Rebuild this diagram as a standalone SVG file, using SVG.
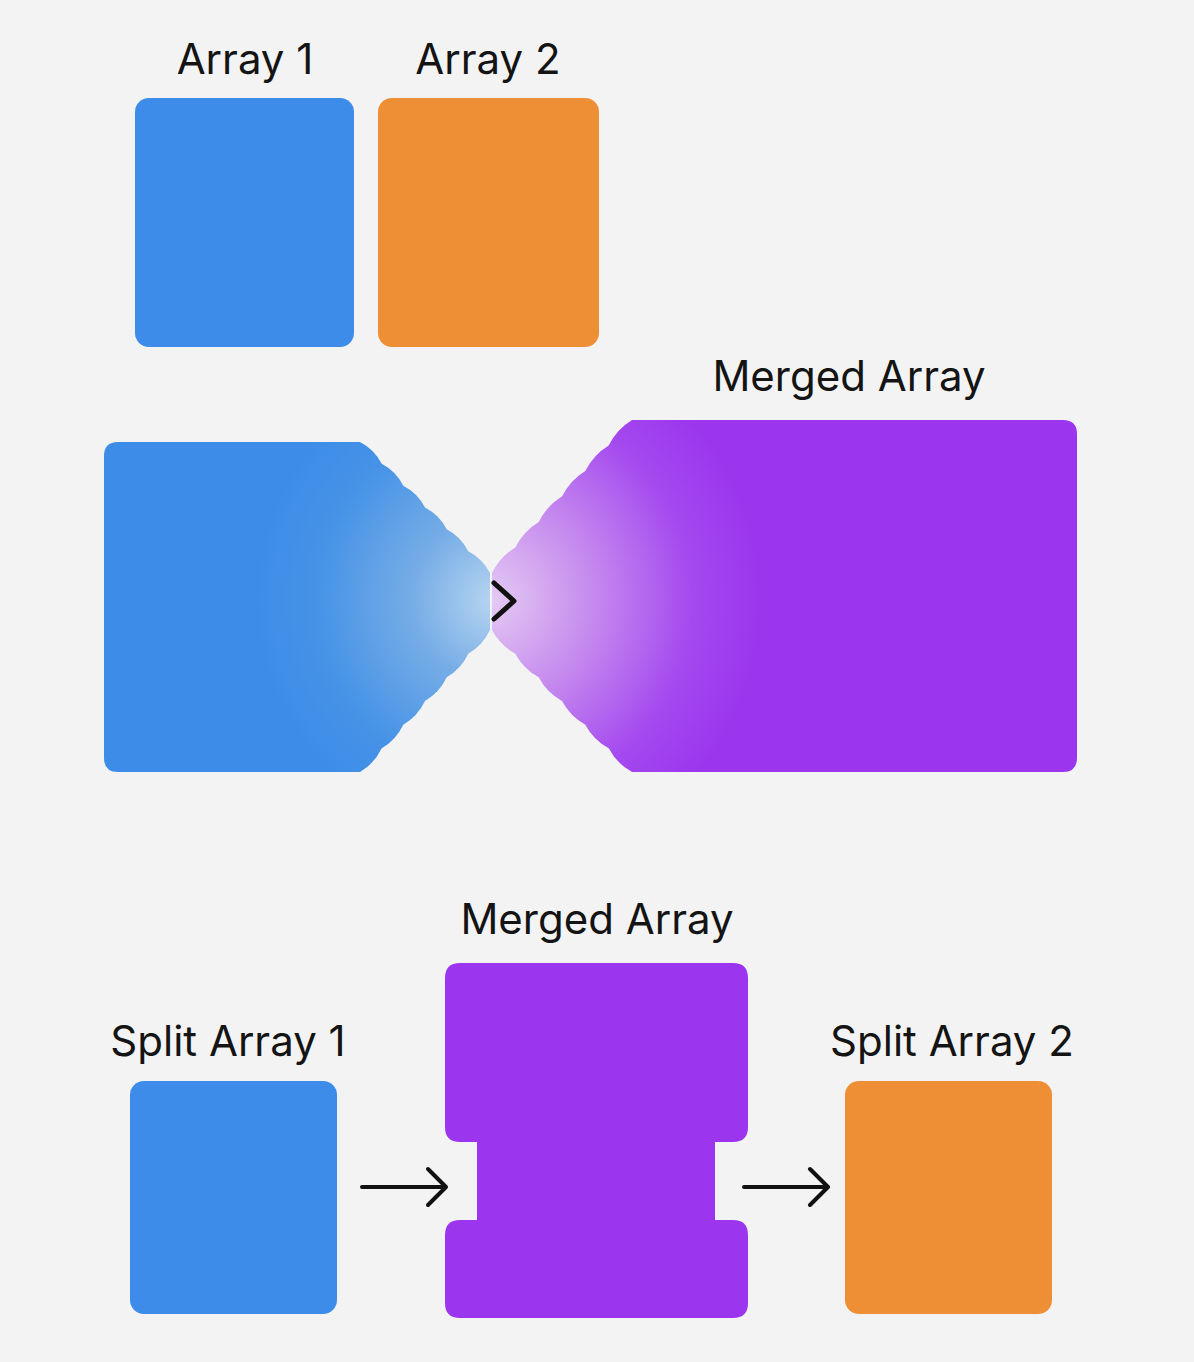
<svg xmlns="http://www.w3.org/2000/svg" width="1194" height="1362" viewBox="0 0 1194 1362">
<defs>
<style>
.lbl{font-family:Inter,"Liberation Sans",sans-serif;font-size:42px;fill:#141414;text-anchor:middle}
.blue{fill:#3d8ce9}
.orange{fill:#ee8e35}
.purple{fill:#9b35ee}
.arrow{fill:none;stroke:#111;stroke-width:4;stroke-linecap:round;stroke-linejoin:round}
</style>
<radialGradient id="gBlue" gradientUnits="userSpaceOnUse" cx="495" cy="600" r="240">
<stop offset="0" stop-color="#b8d5f0"/>
<stop offset="0.35" stop-color="#75ace6"/>
<stop offset="0.75" stop-color="#4592e7"/>
<stop offset="1" stop-color="#3d8de8"/>
</radialGradient>
<radialGradient id="gPurple" gradientUnits="userSpaceOnUse" cx="490" cy="600" r="270">
<stop offset="0" stop-color="#e4cbf3"/>
<stop offset="0.35" stop-color="#c88fee"/>
<stop offset="0.75" stop-color="#a449ef"/>
<stop offset="1" stop-color="#9b36ee"/>
</radialGradient>
</defs>
<rect width="1194" height="1362" fill="#f3f3f3"/>

<g id="array1">
<rect class="blue" x="135" y="98" width="219" height="249" rx="14"/>
<text class="lbl" x="245" y="74">Array 1</text>
</g>
<g id="array2">
<rect class="orange" x="378" y="98" width="221" height="249" rx="14"/>
<text class="lbl" x="488" y="74">Array 2</text>
</g>

<g id="merge-left">
<path fill="url(#gBlue)" d="M118,442 H360 Q374.4,449.4 381.7,463.8 Q396,471.3 403.3,485.7 Q417.7,493.1 425,507.5 Q439.4,514.9 446.7,529.3 Q461,536.8 468.3,551.2 Q482.7,558.6 490,573 L490,630 Q482.7,645.3 468.3,653.7 Q461,669 446.7,677.3 Q439.4,692.7 425,701 Q417.7,716.3 403.3,724.7 Q396,740 381.7,748.3 Q374.4,763.7 360,772 H118 Q104,772 104,758 V456 Q104,442 118,442 Z"/>
</g>
<g id="merged-array">
<path fill="url(#gPurple)" d="M632,420 H1063 Q1077,420 1077,434 V758 Q1077,772 1063,772 H632 Q616.8,763.7 608.7,748.3 Q593.5,740 585.3,724.7 Q570.2,716.3 562,701 Q546.8,692.7 538.7,677.3 Q523.5,669 515.3,653.7 Q500.2,645.3 492,630 L492,573 Q500.2,556.7 515.3,547.5 Q523.5,531.2 538.7,522 Q546.8,505.7 562,496.5 Q570.2,480.2 585.3,471 Q593.5,454.7 608.7,445.5 Q616.8,429.2 632,420 Z"/>
<text class="lbl" x="849" y="391">Merged Array</text>
</g>

<g id="split-array-1">
<rect class="blue" x="130" y="1081" width="207" height="233" rx="14"/>
<text class="lbl" x="228" y="1056">Split Array 1</text>
</g>
<g id="merged-array-2">
<path class="purple" d="M460,963 H733 Q748,963 748,978 V1127 Q748,1142 733,1142 H715 V1220 H733 Q748,1220 748,1235 V1303 Q748,1318 733,1318 H460 Q445,1318 445,1303 V1235 Q445,1220 460,1220 H477 V1142 H460 Q445,1142 445,1127 V978 Q445,963 460,963 Z"/>
<text class="lbl" x="597" y="934">Merged Array</text>
</g>
<g id="split-array-2">
<rect class="orange" x="845" y="1081" width="207" height="233" rx="14"/>
<text class="lbl" x="952" y="1056">Split Array 2</text>
</g>

<g id="connectors">
<path class="arrow" style="stroke-width:5" d="M494,583 L514,601 L494,619"/>
<path class="arrow" d="M362,1187 H445 M428,1169 L446,1187 L428,1205"/>
<path class="arrow" d="M744,1187 H827 M810,1169 L828,1187 L810,1205"/>
</g>
</svg>
